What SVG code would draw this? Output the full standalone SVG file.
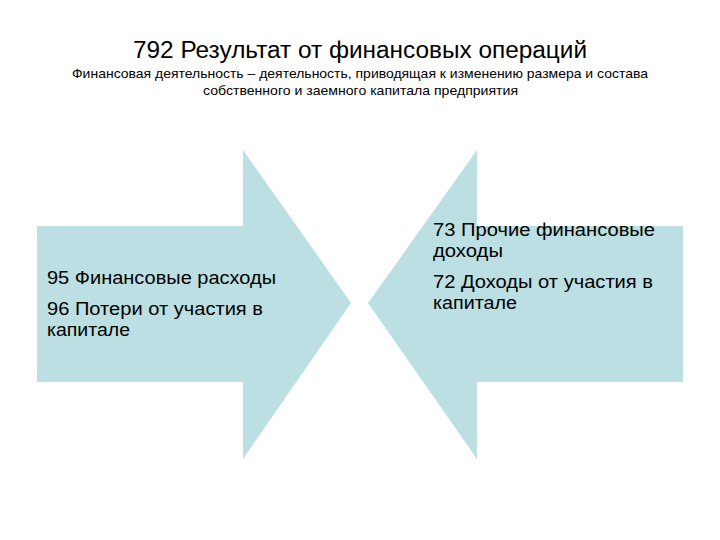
<svg xmlns="http://www.w3.org/2000/svg" width="720" height="540" viewBox="0 0 720 540">
<style>
.arrow{fill:#bbdfe2;stroke:none}
text{font-family:"Liberation Sans",Arial,sans-serif;fill:#000}
.t{font-size:23px}
.s{font-size:13.5px}
.b{font-size:17.5px}
</style>
<rect width="720" height="540" fill="#fff"/>
<g id="title">
<text class="t" x="133" y="58" textLength="454" lengthAdjust="spacingAndGlyphs">792 Результат от финансовых операций</text>
<text class="s" x="72" y="78" textLength="576" lengthAdjust="spacingAndGlyphs">Финансовая деятельность – деятельность, приводящая к изменению размера и состава</text>
<text class="s" x="203" y="95" textLength="315" lengthAdjust="spacingAndGlyphs">собственного и заемного капитала предприятия</text>
</g>
<g id="expenses">
<polygon class="arrow" points="37,226 243,226 243,150 351,303 243,459 243,382 37,382"/>
<text class="b" x="47" y="284" textLength="229" lengthAdjust="spacingAndGlyphs">95 Финансовые расходы</text>
<text class="b" x="47" y="315" textLength="216" lengthAdjust="spacingAndGlyphs">96 Потери от участия в</text>
<text class="b" x="47" y="336" textLength="83" lengthAdjust="spacingAndGlyphs">капитале</text>
</g>
<g id="income">
<polygon class="arrow" points="683,226 477,226 477,150 368,303 477,459 477,382 683,382"/>
<text class="b" x="433" y="236" textLength="222" lengthAdjust="spacingAndGlyphs">73 Прочие финансовые</text>
<text class="b" x="433" y="257" textLength="70" lengthAdjust="spacingAndGlyphs">доходы</text>
<text class="b" x="433" y="288" textLength="220" lengthAdjust="spacingAndGlyphs">72 Доходы от участия в</text>
<text class="b" x="433" y="309" textLength="84" lengthAdjust="spacingAndGlyphs">капитале</text>
</g>
<g id="connectors"/>
</svg>
